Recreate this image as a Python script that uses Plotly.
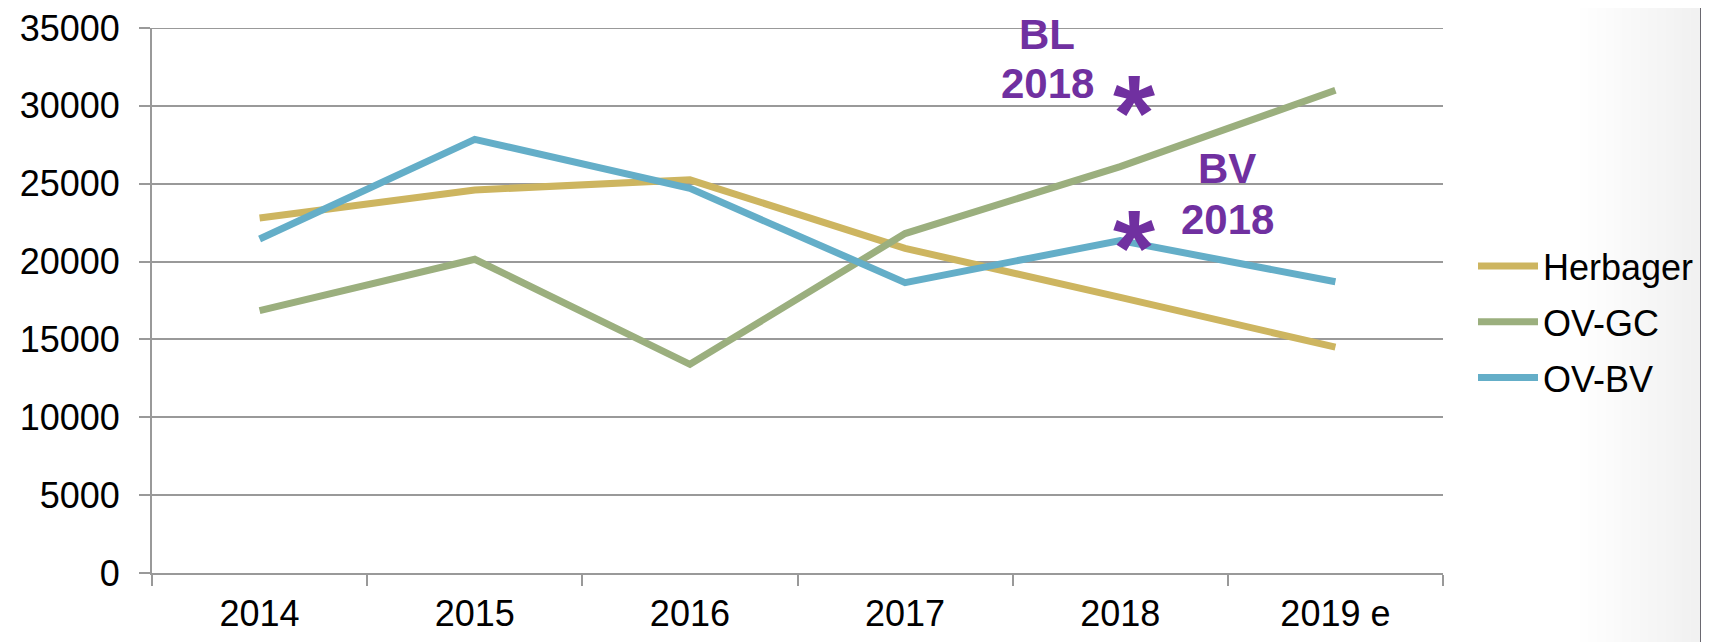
import plotly.graph_objects as go

years = ["2014", "2015", "2016", "2017", "2018", "2019 e"]
herbager = [22800, 24600, 25250, 20850, 17700, 14500]
ov_gc = [16850, 20150, 13400, 21800, 26100, 31000]
ov_bv = [21450, 27850, 24700, 18650, 21350, 18700]

series_names = ["Herbager", "OV-GC", "OV-BV"]
series_colors = ["#CDB560", "#9BAF7E", "#64AEC8"]
y_ticks = [0, 5000, 10000, 15000, 20000, 25000, 30000, 35000]
y_tick_labels = [str(v) for v in y_ticks]

FONT = "Arial, Liberation Sans, sans-serif"
PURPLE = "#7030A0"
GRID = "#999999"

fig = go.Figure()
for i, (name, vals) in enumerate(zip(series_names, [herbager, ov_gc, ov_bv])):
    fig.add_trace(go.Scatter(
        x=years, y=vals, mode="lines", name=name,
        line=dict(color=series_colors[i], width=7),
        legendgroup=name,
    ))

# page body has an 8px default margin, so the figure is offset by 8px
OFF = 8
W, H = 1709 - OFF, 642 - OFF
L, R, T, B = 152 - OFF, 266, 28 - OFF, 69
plot_w = W - L - R
plot_h = H - T - B

def px2paper(px_full):
    return (px_full - OFF - L) / plot_w

shapes = []
steps = 14
x_start, x_end = 1580, 1700
for k in range(steps):
    a = x_start + (x_end - x_start) * k / steps
    b = x_start + (x_end - x_start) * (k + 1) / steps
    v = int(255 - 14 * (k + 1) / steps)
    shapes.append(dict(type="rect", xref="paper", yref="paper",
                       x0=px2paper(a), x1=px2paper(b) + 0.001, y0=-0.2, y1=1.1,
                       fillcolor=f"rgb({v},{v},{v})", line=dict(width=0), layer="below"))
shapes.append(dict(type="rect", xref="paper", yref="paper",
                   x0=px2paper(1700), x1=px2paper(1712), y0=-0.2, y1=1.1,
                   fillcolor="#6A6870", line=dict(width=0), layer="below"))
# top gridline (plotly drops the grid line that sits on the plot edge)
shapes.append(dict(type="line", xref="paper", yref="y", x0=0, x1=1,
                   y0=y_ticks[-1], y1=y_ticks[-1], line=dict(color=GRID, width=2),
                   layer="above"))

idx_2018 = years.index("2018")
label_font = dict(family=FONT, size=42, color=PURPLE)
star_font = dict(family=FONT, size=108, color=PURPLE)
annotations = [
    dict(x=idx_2018, y=34600, xref="x", yref="y", text="<b>BL</b>",
         showarrow=False, xshift=-73, font=label_font),
    dict(x=idx_2018, y=31450, xref="x", yref="y", text="<b>2018</b>",
         showarrow=False, xshift=-73, font=label_font),
    dict(x=idx_2018, y=30570, xref="x", yref="y", text="<b>*</b>",
         showarrow=False, xshift=14, yshift=-16, font=star_font),
    dict(x=idx_2018, y=22030, xref="x", yref="y", text="<b>*</b>",
         showarrow=False, xshift=14, yshift=-18, font=star_font),
    dict(x=idx_2018, y=25950, xref="x", yref="y", text="<b>BV</b>",
         showarrow=False, xshift=107, font=label_font),
    dict(x=idx_2018, y=22700, xref="x", yref="y", text="<b>2018</b>",
         showarrow=False, xshift=107, font=label_font),
]

legend_center_local = 314
fig.update_layout(
    width=W, height=H,
    margin=dict(l=L, r=R, t=T, b=B, autoexpand=False),
    paper_bgcolor="white", plot_bgcolor="white",
    font=dict(family=FONT, size=36, color="black"),
    showlegend=True,
    legend=dict(x=px2paper(1473), xanchor="left",
                y=(H - B - legend_center_local) / plot_h, yanchor="middle",
                font=dict(family=FONT, size=36, color="black"),
                tracegroupgap=6, bgcolor="rgba(0,0,0,0)", itemwidth=60),
    shapes=shapes,
    annotations=annotations,
    xaxis=dict(type="category", range=[-0.5, 5.5], autorange=False, tickson="boundaries",
               ticks="outside", ticklen=11, tickangle=0, automargin=False,
               tickcolor=GRID, tickwidth=2, showgrid=False, showline=True,
               linecolor=GRID, linewidth=2, zeroline=False,
               tickfont=dict(size=36), ticklabelstandoff=8),
    yaxis=dict(range=[0, 35000], autorange=False, tickvals=y_ticks, ticktext=y_tick_labels,
               ticks="outside", ticklen=11, automargin=False, ticklabeloverflow="allow",
               tickcolor=GRID, tickwidth=2, showgrid=True, gridcolor=GRID,
               gridwidth=2, showline=True, linecolor=GRID, linewidth=2,
               zeroline=False, tickfont=dict(size=36), ticklabelstandoff=12),
)

fig.write_html("out.html")
